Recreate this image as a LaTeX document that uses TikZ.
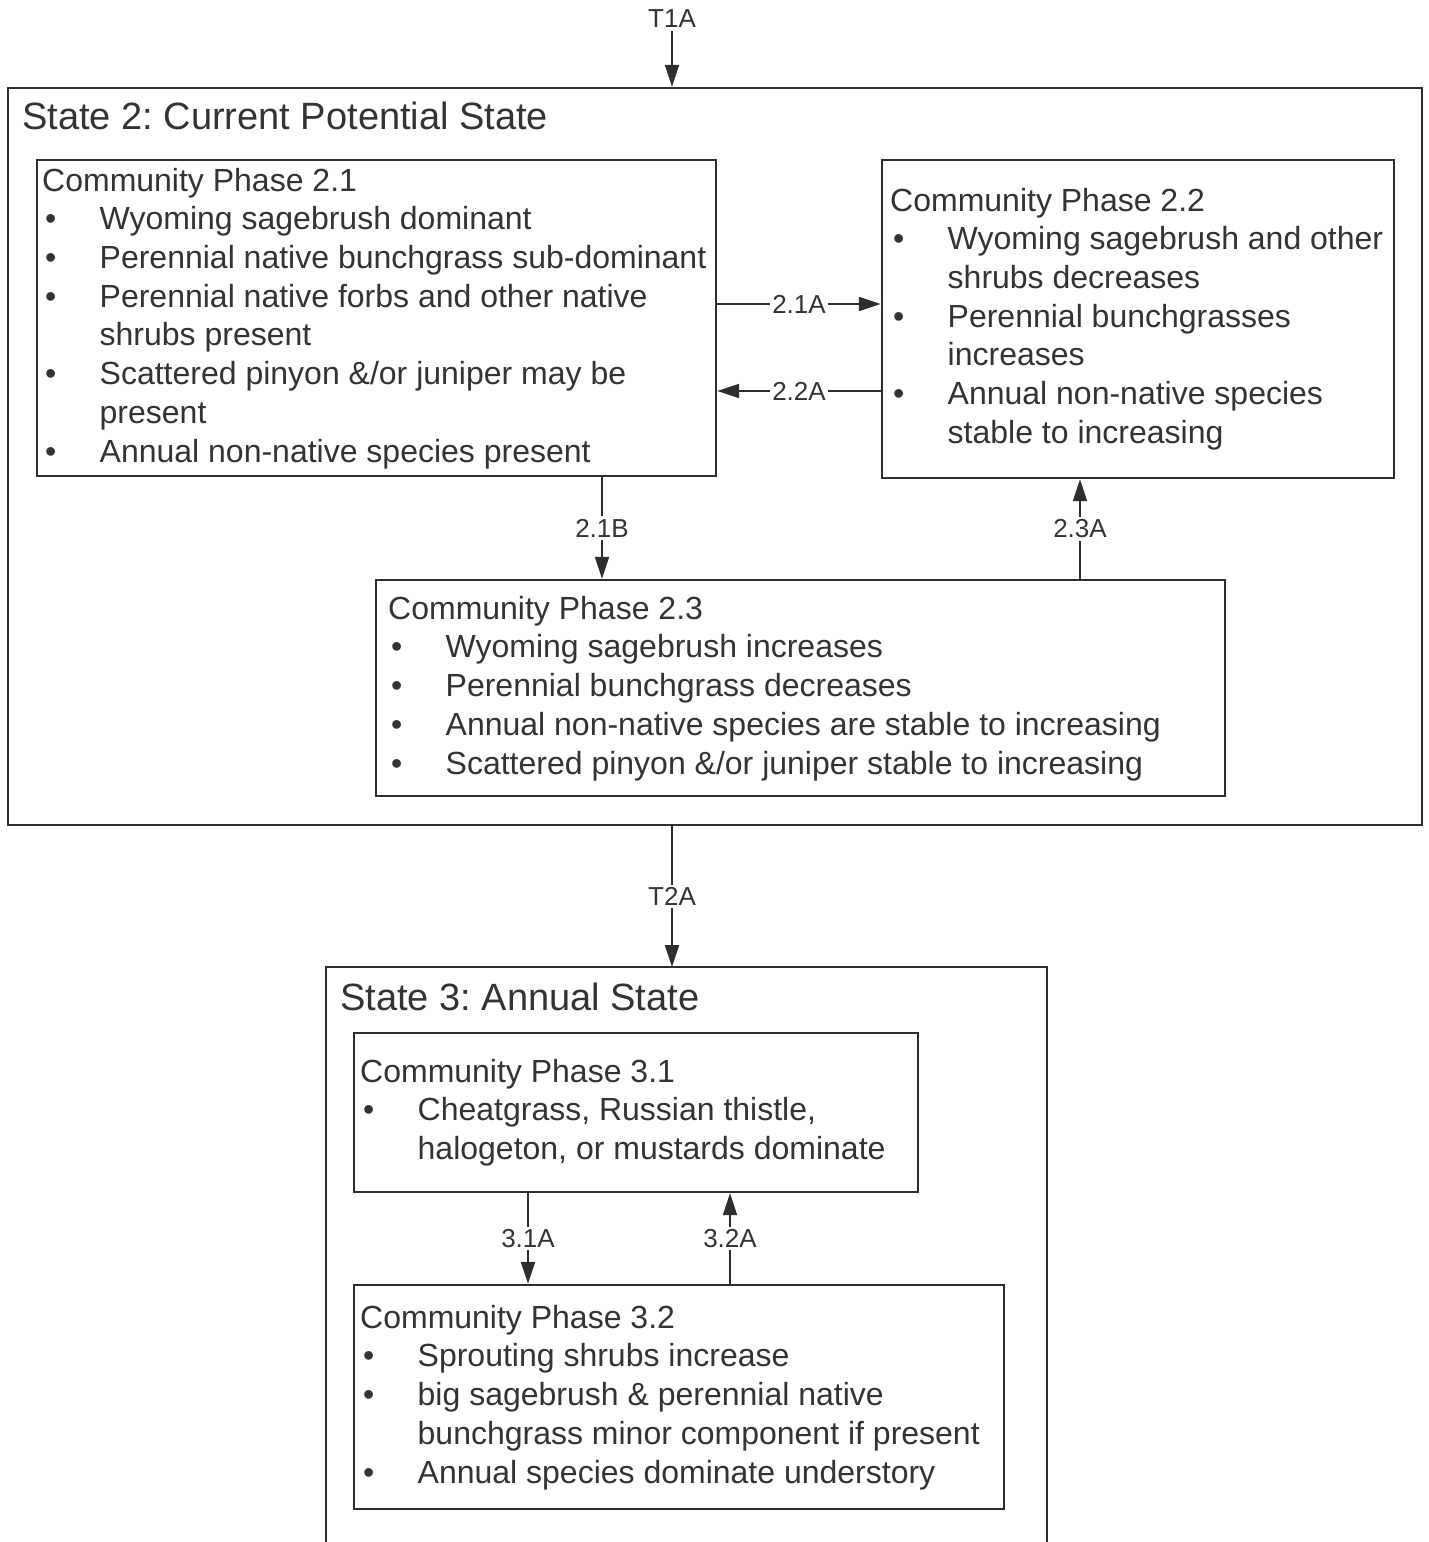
\documentclass[tikz,border=0pt]{standalone}
\usepackage{fontspec}
\setmainfont{Liberation Sans}
\usetikzlibrary{arrows.meta}
\definecolor{ink}{HTML}{2E2E2E}
\definecolor{txt}{HTML}{333333}
\newcommand{\bl}[1]{\makebox[57.5pt][l]{\hspace{3pt}\textbullet}#1\strut}
\newcommand{\cl}[1]{\hspace*{57.5pt}#1\strut}
\frenchspacing
\begin{document}
\begin{tikzpicture}[x=1pt,y=-1pt,
  statebox/.style={draw=ink, line width=2.5pt, rectangle, inner sep=0pt},
  pbox/.style={draw=ink, line width=2.3pt, rectangle, inner sep=0pt},
  ptext/.style={anchor=north west, inner sep=0pt, align=left, text=txt, font=\fontsize{32}{38.7}\selectfont},
  stitle/.style={anchor=base west, inner sep=0pt, text=txt, font=\fontsize{38}{44}\selectfont},
  lbl/.style={fill=white, inner sep=2.5pt, text=txt, font=\fontsize{26}{28}\selectfont},
  arr/.style={draw=ink, line width=2pt, -{Triangle[length=22pt,width=14pt]}},
]
\fill[white] (0,0) rectangle (1429,1542);
\useasboundingbox (0,0) rectangle (1429,1542);

% State 2
\node[statebox, minimum width=1414pt, minimum height=737pt] (state2) at (715,456.5) {};
\node[stitle] (s2title) at (22,129) {State 2: Current Potential State};

\node[pbox, minimum width=679pt, minimum height=316pt] (p21) at (376.5,318) {};
\node[pbox, minimum width=512pt, minimum height=318pt] (p22) at (1138,319) {};
\node[pbox, minimum width=849pt, minimum height=216pt] (p23) at (800.5,688) {};

\node[ptext] (p21txt) at (42,163.9) {Community Phase 2.1\strut\\
\bl{Wyoming sagebrush dominant}\\
\bl{Perennial native bunchgrass sub-dominant}\\
\bl{Perennial native forbs and other native}\\
\cl{shrubs present}\\
\bl{Scattered pinyon \&/or juniper may be}\\
\cl{present}\\
\bl{Annual non-native species present}};

\node[ptext] (p22txt) at (890,183.9) {Community Phase 2.2\strut\\
\bl{Wyoming sagebrush and other}\\
\cl{shrubs decreases}\\
\bl{Perennial bunchgrasses}\\
\cl{increases}\\
\bl{Annual non-native species}\\
\cl{stable to increasing}};

\node[ptext] (p23txt) at (388,591.9) {Community Phase 2.3\strut\\
\bl{Wyoming sagebrush increases}\\
\bl{Perennial bunchgrass decreases}\\
\bl{Annual non-native species are stable to increasing}\\
\bl{Scattered pinyon \&/or juniper stable to increasing}};

% State 3 (open at the bottom)
\coordinate (s3nw) at (326,967);
\coordinate (s3ne) at (1047,967);
\draw[ink, line width=2.5pt] (326,1542) -- (s3nw) -- (s3ne) -- (1047,1542);
\node[stitle] (s3title) at (340,1010) {State 3: Annual State};

\node[pbox, minimum width=564pt, minimum height=159pt] (p31) at (636,1112.5) {};
\node[pbox, minimum width=650pt, minimum height=224pt] (p32) at (679,1397) {};

\node[ptext] (p31txt) at (360,1054.9) {Community Phase 3.1\strut\\
\bl{Cheatgrass, Russian thistle,}\\
\cl{halogeton, or mustards dominate}};

\node[ptext] (p32txt) at (360,1300.9) {Community Phase 3.2\strut\\
\bl{Sprouting shrubs increase}\\
\bl{big sagebrush \& perennial native}\\
\cl{bunchgrass minor component if present}\\
\bl{Annual species dominate understory}};

% connectors
\node[lbl] (t1a) at (672,19) {T1A};
\draw[arr] (t1a.south) -- (t1a |- state2.north);

\coordinate (y21a) at (0,304);
\coordinate (y22a) at (0,391);
\draw[arr] (p21.east |- y21a) -- node[lbl] (l21a) {2.1A} (p22.west |- y21a);
\draw[arr] (p22.west |- y22a) -- node[lbl] (l22a) {2.2A} (p21.east |- y22a);

\coordinate (x21b) at (602,0);
\coordinate (x23a) at (1080,0);
\draw[arr] (x21b |- p21.south) -- node[lbl] (l21b) {2.1B} (x21b |- p23.north);
\draw[arr] (x23a |- p23.north) -- node[lbl] (l23a) {2.3A} (x23a |- p22.south);

\coordinate (xt2a) at (672,0);
\draw[arr] (xt2a |- state2.south) -- node[lbl] (lt2a) {T2A} (xt2a |- s3nw);

\coordinate (x31a) at (528,0);
\coordinate (x32a) at (730,0);
\draw[arr] (x31a |- p31.south) -- node[lbl] (l31a) {3.1A} (x31a |- p32.north);
\draw[arr] (x32a |- p32.north) -- node[lbl] (l32a) {3.2A} (x32a |- p31.south);
\end{tikzpicture}
\end{document}
